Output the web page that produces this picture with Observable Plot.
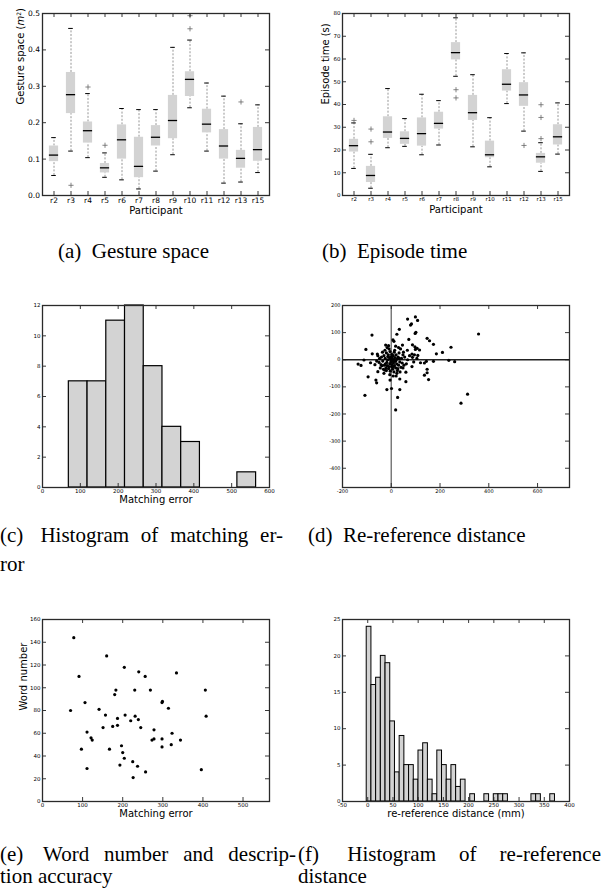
<!DOCTYPE html>
<html><head><meta charset="utf-8">
<script src="https://cdn.jsdelivr.net/npm/d3@7"></script>
<script src="https://cdn.jsdelivr.net/npm/@observablehq/plot@0.6"></script>
<style>
body{margin:0;background:#fff;}
#fig{position:relative;width:601px;height:894px;overflow:hidden;background:#fff;}
.panel{position:absolute;}
.cap{position:absolute;font-family:"Liberation Serif","Times New Roman",serif;font-size:21px;line-height:21px;color:#000;white-space:nowrap;}
.just{text-align:justify;text-align-last:justify;white-space:normal;}
.lab{margin-right:0.25em;}
</style></head><body><div id="fig"></div>
<script>
// ---------- DATA ----------
const participants = ["r2","r3","r4","r5","r6","r7","r8","r9","r10","r11","r12","r13","r15"];

// (a) Gesture space (m^2) box statistics per participant
const gestureLow  = [0.055,0.122,0.104,0.050,0.043,0.018,0.067,0.112,0.241,0.122,0.034,0.037,0.063];
const gestureQ1   = [0.093,0.225,0.144,0.062,0.100,0.049,0.136,0.156,0.272,0.172,0.100,0.075,0.094];
const gestureMed  = [0.111,0.277,0.178,0.076,0.153,0.080,0.160,0.206,0.319,0.196,0.136,0.102,0.126];
const gestureQ3   = [0.136,0.338,0.202,0.088,0.194,0.160,0.192,0.275,0.340,0.237,0.181,0.124,0.187];
const gestureHigh = [0.159,0.459,0.280,0.117,0.239,0.236,0.236,0.407,0.427,0.309,0.273,0.197,0.249];
const gestureOutP = ["r3","r4","r5","r10","r10","r13"];
const gestureOutV = [0.028,0.298,0.138,0.458,0.494,0.257];

// (b) Episode time (s) box statistics per participant
const episodeLow  = [11.9, 3.2,21.0,21.6,17.9,22.2,52.4,21.4,12.6,40.4,28.3,10.6,18.2];
const episodeQ1   = [19.1, 5.7,25.1,22.5,21.7,29.2,59.6,33.0,16.6,45.9,39.2,14.2,22.2];
const episodeMed  = [21.9, 8.8,27.9,25.1,27.2,31.7,62.8,36.4,17.9,48.9,44.2,17.0,25.8];
const episodeQ3   = [24.7,12.8,34.6,28.0,34.1,36.6,67.2,44.0,23.9,55.3,49.6,18.5,31.1];
const episodeHigh = [31.9,18.1,47.0,33.8,44.5,41.7,78.1,53.1,34.2,62.4,62.7,23.2,40.7];
const episodeOutP = ["r2","r3","r3","r8","r8","r12","r13","r13","r13"];
const episodeOutV = [33.0,23.6,29.2,46.5,42.9,22.0,25.0,34.3,39.9];

// (c) Histogram of matching error
const matchBinEdges = [69.6,119.1,168.6,218.1,267.6,317.1,366.6,416.1,465.6,515.1,564.6];
const matchCounts   = [7,7,11,12,8,4,3,0,0,1];

// (d) Re-reference distance scatter (x, y)
const reRefX = [67,99,108,79,83,33,23,101,98,-79,358,7,11,72,147,157,173,87,97,245,210,185,46,-23,-11,-104,-78,-57,106,116,99,-112,-136,-124,-85,-67,-95,-55,-63,-60,-5,35,60,60,85,120,136,144,173,236,260,136,147,153,147,-18,1,35,-108,26,18,286,313,67,87,85,109,95,55,62,48,75,92,105,50,66,
  -40,-35,-30,-28,-25,-22,-20,-18,-15,-12,-10,-8,-6,-5,-3,-2,0,0,2,3,4,5,6,8,9,10,12,13,15,16,18,20,22,24,25,28,30,32,35,38,40,42,45,-45,-38,-32,-27,-24,-20,-16,-14,-9,-4,1,7,11,14,19,23,27,-50,-48,-42,-36,-26,-17,-11,18,30,36,-6,8,20,-30,-55,-60,33,48,52];
const reRefY = [150,158,145,128,132,112,94,101,97,91,95,73,68,75,79,70,57,55,48,46,27,22,54,54,52,38,22,21,42,36,38,-1,-16,-21,-11,-18,-63,-44,-75,-85,-75,-71,-81,-46,-25,-11,-12,-6,-6,-2,-7,-57,-48,-73,-35,-110,-106,-110,-131,-139,-185,-160,-127,0,9,21,16,18,10,-15,-30,15,-8,5,28,35,
  10,-5,15,-20,5,-30,25,-10,0,18,-25,8,-15,30,2,-8,12,-3,20,-18,5,-35,-5,15,-12,0,28,-22,8,-6,-30,18,-15,3,-40,10,-20,25,-8,40,-28,5,-12,-30,-22,-35,-38,-15,-40,-22,12,40,-42,-25,-28,-45,35,-4,-50,-33,-10,5,-18,28,35,45,-33,50,45,-45,-55,-60,-60,-50,15,-5,5,18,-20];

// (e) Word number vs matching error
const wordMatchErr = [78,91,70,106,97,111,111,121,124,141,151,157,160,167,175,180,183,187,187,193,197,200,204,206,204,220,225,226,231,230,237,239,240,245,256,257,269,273,278,278,298,299,298,298,314,321,323,334,344,396,406,408];
const wordNumber   = [144,110,80,87,46,61,29,56,54,81,65,76,128,46,66,94,98,73,67,32,49,43,118,76,38,71,35,21,75,98,31,72,114,65,110,26,98,54,55,63,87,88,55,48,82,50,60,113,54,28,98,75];

// (f) Histogram of re-reference distance (40 bins)
const reRefBinStart = -2, reRefBinWidth = 9.33;
const reRefCounts = [24,16,17,20,19,11,4,9,5,5,3,7,8,3,1,7,5,3,5,2,3,0,1,0,0,1,0,1,1,1,0,0,0,0,0,1,1,0,0,1];

// tick values
const gestureTicks = [0,0.1,0.2,0.3,0.4,0.5];
const episodeTicks = [0,10,20,30,40,50,60,70,80];
const matchXTicks = [0,100,200,300,400,500,600];
const matchYTicks = [0,2,4,6,8,10,12];
const reRefXTicks = [-200,0,200,400,600];
const reRefYTicks = [200,100,0,-100,-200,-300,-400];
const wordXTicks = [0,100,200,300,400,500];
const wordYTicks = [0,20,40,60,80,100,120,140,160];
const distXTicks = [-50,0,50,100,150,200,250,300,350,400];
const distYTicks = [0,5,10,15,20,25];

// ---------- HELPERS ----------
const fig = document.getElementById("fig");
const TL = 4;

function panel(o) {
  const innerW = o.width - o.ml - o.mr, innerH = o.height - o.mt - o.mb;
  const tk = "#222";
  const marks = [
    ...o.marks,
    Plot.ruleX(o.xTicks, {x: d => d, insetTop: innerH - TL, stroke: tk, strokeWidth: 0.9}),
    Plot.ruleX(o.xTicks, {x: d => d, insetBottom: innerH - TL, stroke: tk, strokeWidth: 0.9}),
    Plot.ruleY(o.yTicks, {y: d => d, insetRight: innerW - TL, stroke: tk, strokeWidth: 0.9}),
    Plot.ruleY(o.yTicks, {y: d => d, insetLeft: innerW - TL, stroke: tk, strokeWidth: 0.9}),
    Plot.axisX(o.xTicks, {tickSize: 0, tickPadding: o.tp, fontSize: o.tf, tickFormat: o.xFmt || (d => String(d)), label: null, fill: "#000"}),
    Plot.axisY(o.yTicks, {tickSize: 0, tickPadding: o.tp, fontSize: o.tf, tickFormat: o.yFmt || (d => String(d)), label: null, fill: "#000"}),
    Plot.frame({stroke: "#2a2a2a", strokeWidth: 1.3})
  ];
  if (o.xLabel) marks.push(Plot.text([o.xLabel], {frameAnchor: "bottom", dy: o.xdy, fontSize: 10, lineAnchor: "middle", text: d => d, fill: "#000"}));
  if (o.yLabel) marks.push(Plot.text([o.yLabel], {frameAnchor: "left", dx: -o.ydx, rotate: -90, fontSize: 10, lineAnchor: "middle", text: d => d, fill: "#000"}));
  const p = Plot.plot({
    width: o.width, height: o.height,
    marginLeft: o.ml, marginRight: o.mr, marginTop: o.mt, marginBottom: o.mb,
    x: o.x, y: o.y,
    style: {fontFamily: "'DejaVu Sans', sans-serif", background: "transparent", color: "#000", overflow: "visible"},
    marks
  });
  const d = document.createElement("div");
  d.className = "panel";
  d.style.left = o.left + "px"; d.style.top = o.top + "px";
  d.appendChild(p);
  fig.appendChild(d);
  return p;
}

function boxMarks(low, q1, med, q3, high, outP, outV) {
  const idx = d3.range(participants.length);
  const px = i => participants[i];
  const wh = {stroke: "#8a8a8a", strokeWidth: 0.9, strokeDasharray: "2,1.6"};
  return [
    Plot.ruleX(idx, {x: px, y1: i => low[i], y2: i => q1[i], ...wh}),
    Plot.ruleX(idx, {x: px, y1: i => q3[i], y2: i => high[i], ...wh}),
    Plot.barY(idx, {x: px, y1: i => q1[i], y2: i => q3[i], fill: "#d3d3d3", insetLeft: 3.9, insetRight: 3.9}),
    Plot.tickY(idx, {x: px, y: i => med[i], stroke: "#000", strokeWidth: 1.3, insetLeft: 3.9, insetRight: 3.9}),
    Plot.tickY(idx, {x: px, y: i => low[i], stroke: "#000", strokeWidth: 1, insetLeft: 6.2, insetRight: 6.2}),
    Plot.tickY(idx, {x: px, y: i => high[i], stroke: "#000", strokeWidth: 1, insetLeft: 6.2, insetRight: 6.2}),
    Plot.dot(d3.range(outP.length), {x: i => outP[i], y: i => outV[i], symbol: "plus", r: 1.8, stroke: "#666", strokeWidth: 0.8})
  ];
}

// (a)
const pa = panel({left: 0, top: 0, width: 300, height: 215, ml: 42, mr: 31, mt: 13, mb: 20,
  x: {type: "band", domain: participants, padding: 0}, y: {domain: [0, 0.5]},
  xTicks: participants, yTicks: gestureTicks, yFmt: d3.format(".1f"), tf: 7.5, tp: 2.5,
  xLabel: "Participant", xdy: 15, yLabel: "Gesture space (m²)", ydx: 22,
  marks: boxMarks(gestureLow, gestureQ1, gestureMed, gestureQ3, gestureHigh, gestureOutP, gestureOutV)});
pa.querySelectorAll("text").forEach(t => {
  if (t.textContent === "Gesture space (m²)") {
    t.innerHTML = 'Gesture space (<tspan font-style="italic">m</tspan><tspan baseline-shift="super" font-size="6">2</tspan>)';
  }
});

// (b)
panel({left: 300, top: 0, width: 301, height: 215, ml: 42, mr: 32, mt: 13, mb: 20,
  x: {type: "band", domain: participants, padding: 0}, y: {domain: [0, 80]},
  xTicks: participants, yTicks: episodeTicks, tf: 5.5, tp: 2,
  xLabel: "Participant", xdy: 14, yLabel: "Episode time (s)", ydx: 17,
  marks: boxMarks(episodeLow, episodeQ1, episodeMed, episodeQ3, episodeHigh, episodeOutP, episodeOutV)});

// (c)
const mIdx = d3.range(matchCounts.length).filter(i => matchCounts[i] > 0);
panel({left: 0, top: 290, width: 300, height: 215, ml: 42, mr: 31, mt: 15, mb: 18,
  x: {domain: [0, 600]}, y: {domain: [0, 12]},
  xTicks: matchXTicks, yTicks: matchYTicks, tf: 5.5, tp: 2,
  xLabel: "Matching error", xdy: 12,
  marks: [Plot.rectY(mIdx, {x1: i => matchBinEdges[i], x2: i => matchBinEdges[i + 1], y1: 0, y2: i => matchCounts[i], fill: "#d3d3d3", stroke: "#000", strokeWidth: 1.2})]});

// (d)
panel({left: 300, top: 290, width: 301, height: 215, ml: 42, mr: 32, mt: 15, mb: 18,
  x: {domain: [-200, 731]}, y: {domain: [-471, 200]},
  xTicks: reRefXTicks, yTicks: reRefYTicks, tf: 5, tp: 2,
  marks: [
    Plot.ruleX([0], {stroke: "#7a7a7a", strokeWidth: 1.5}),
    Plot.ruleY([0], {stroke: "#222", strokeWidth: 1.3}),
    Plot.dot(d3.range(reRefX.length), {x: i => reRefX[i], y: i => reRefY[i], r: 1.6, fill: "#000", stroke: "none"})
  ]});

// (e)
panel({left: 0, top: 600, width: 300, height: 220, ml: 42, mr: 31, mt: 19, mb: 19,
  x: {domain: [0, 566]}, y: {domain: [0, 160]},
  xTicks: wordXTicks, yTicks: wordYTicks, tf: 5.5, tp: 2,
  xLabel: "Matching error", xdy: 12, yLabel: "Word number", ydx: 19,
  marks: [Plot.dot(d3.range(wordNumber.length), {x: i => wordMatchErr[i], y: i => wordNumber[i], r: 1.6, fill: "#000", stroke: "none"})]});

// (f)
const fIdx = d3.range(reRefCounts.length).filter(i => reRefCounts[i] > 0);
panel({left: 300, top: 600, width: 301, height: 220, ml: 42, mr: 32, mt: 19, mb: 19,
  x: {domain: [-50, 400]}, y: {domain: [0, 25]},
  xTicks: distXTicks, yTicks: distYTicks, tf: 5.5, tp: 2,
  xLabel: "re-reference distance (mm)", xdy: 12,
  marks: [Plot.rectY(fIdx, {x1: i => reRefBinStart + i * reRefBinWidth, x2: i => reRefBinStart + (i + 1) * reRefBinWidth, y1: 0, y2: i => reRefCounts[i], fill: "#d3d3d3", stroke: "#000", strokeWidth: 1})]});

// ---------- CAPTIONS ----------
const captions = [
  {html: '<span class="lab">(a)</span> Gesture space', left: 58, top: 241},
  {html: '<span class="lab">(b)</span> Episode time', left: 322, top: 241},
  {html: '<span class="lab">(c)</span> Histogram of matching er-', left: 0, top: 525, width: 283},
  {html: 'ror', left: 0, top: 554},
  {html: '<span class="lab">(d)</span> Re-reference distance', left: 308, top: 525},
  {html: '<span class="lab">(e)</span> Word number and descrip-', left: 0, top: 844, width: 296},
  {html: 'tion accuracy', left: 0, top: 866},
  {html: '<span class="lab">(f)</span> Histogram of re-reference', left: 298, top: 844, width: 303},
  {html: 'distance', left: 298, top: 866}
];
for (const c of captions) {
  const d = document.createElement("div");
  d.className = "cap" + (c.width ? " just" : "");
  d.style.left = c.left + "px"; d.style.top = c.top + "px";
  if (c.width) d.style.width = c.width + "px";
  d.innerHTML = c.html;
  fig.appendChild(d);
}
</script></body></html>
